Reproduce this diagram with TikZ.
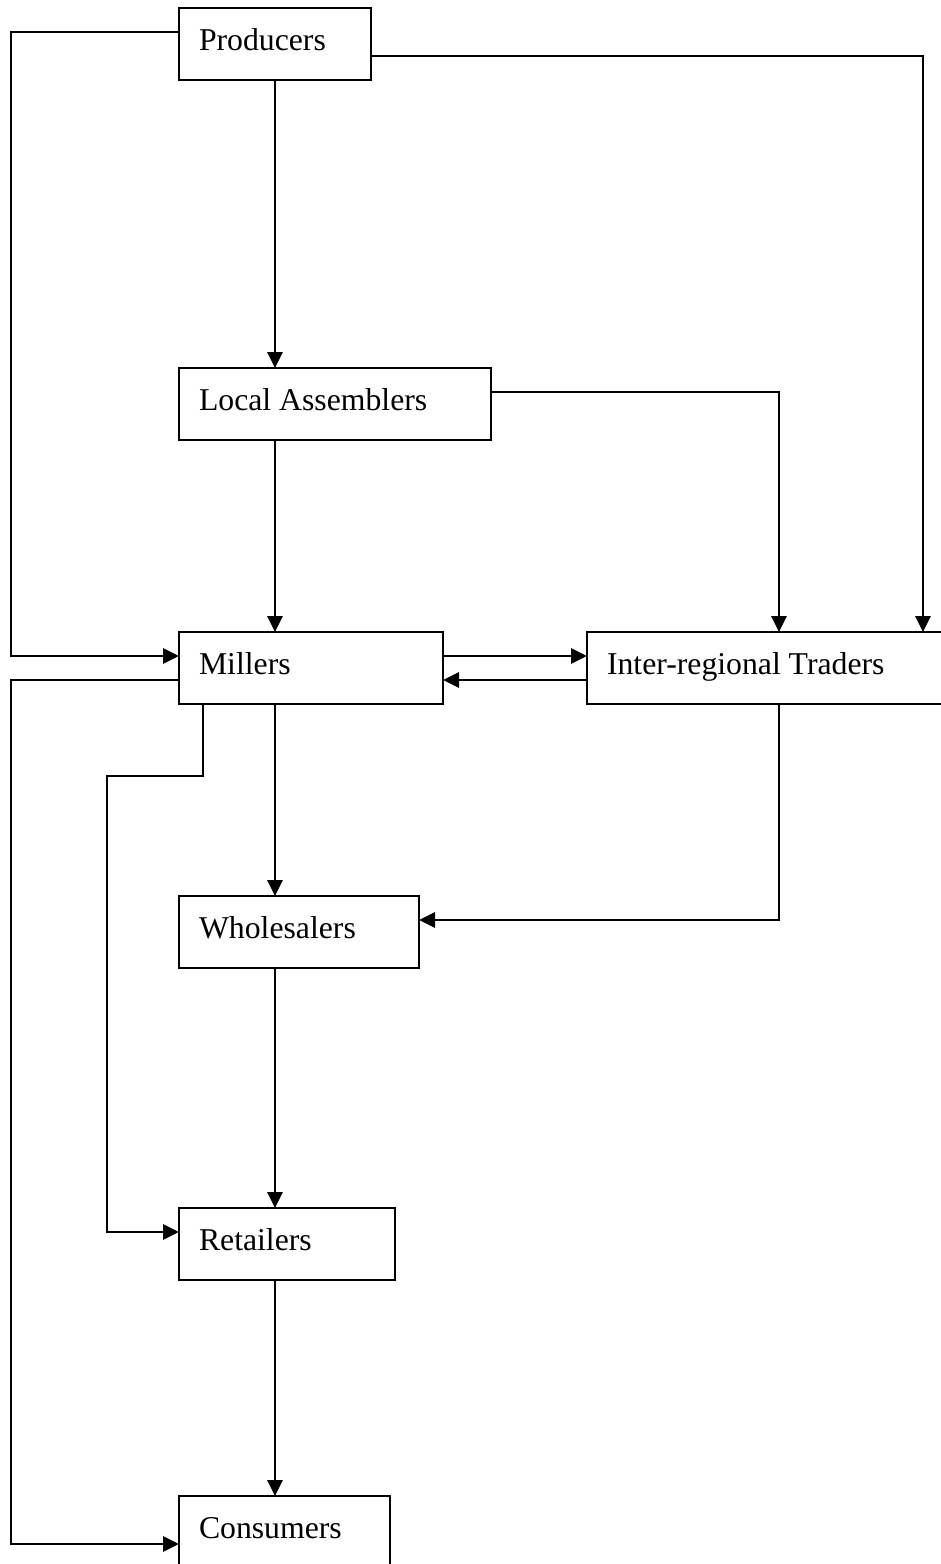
\documentclass[tikz,border=0pt]{standalone}
\usepackage{fontspec}
\setmainfont{Liberation Serif}
\usetikzlibrary{arrows.meta,calc}
\begin{document}
\begin{tikzpicture}[x=0.75pt,y=-0.75pt,
  box/.style={draw, line width=1.6pt, anchor=north west, outer sep=0pt,
    inner xsep=15pt, inner ysep=0pt, minimum height=54pt, align=flush left,
    text height=16.5pt, text depth=7.5pt, font=\fontsize{23.8}{28}\selectfont},
  conn/.style={line width=1.6pt, -{Triangle[length=12pt,width=11.5pt]}}]
\useasboundingbox (0,0) rectangle (940,1564);
\node[box, text width=114pt] (prod) at (179,8) {Producers};
\node[box, text width=204pt] (la) at (179,368) {Local Assemblers};
\node[box, text width=168pt] (mill) at (179,632) {Millers};
\node[box, text width=240pt] (irt) at (587,632) {Inter-regional Traders};
\node[box, text width=150pt] (whole) at (179,896) {Wholesalers};
\node[box, text width=132pt] (ret) at (179,1208) {Retailers};
\node[box, text width=128.25pt] (cons) at (179,1496) {Consumers};
% central chain
\draw[conn] (prod.south) -- (prod.south |- la.north);
\draw[conn] (prod.south |- la.south) -- (prod.south |- mill.north);
\draw[conn] (prod.south |- mill.south) -- (prod.south |- whole.north);
\draw[conn] (prod.south |- whole.south) -- (prod.south |- ret.north);
\draw[conn] (prod.south |- ret.south) -- (prod.south |- cons.north);
% left rails
\draw[conn] ($(prod.north west)+(0,24)$) -- ++(-168,0) |- ($(mill.north west)+(0,24)$);
\draw[conn] ($(mill.north west)+(0,48)$) -- ++(-168,0) |- ($(cons.north west)+(0,48)$);
\draw[conn] ($(mill.south west)+(24,0)$) -- ++(0,72) -- ++(-96,0) |- ($(ret.north west)+(0,24)$);
% right side
\draw[conn] ($(prod.north east)+(0,48)$) -| ($(irt.north west)+(336,0)$);
\draw[conn] ($(la.north east)+(0,24)$) -| ($(irt.north west)+(192,0)$);
\draw[conn] ($(mill.north east)+(0,24)$) -- ($(irt.north west)+(0,24)$);
\draw[conn] ($(irt.north west)+(0,48)$) -- ($(mill.north east)+(0,48)$);
\draw[conn] ($(irt.south west)+(192,0)$) |- ($(whole.north east)+(0,24)$);
\end{tikzpicture}
\end{document}
